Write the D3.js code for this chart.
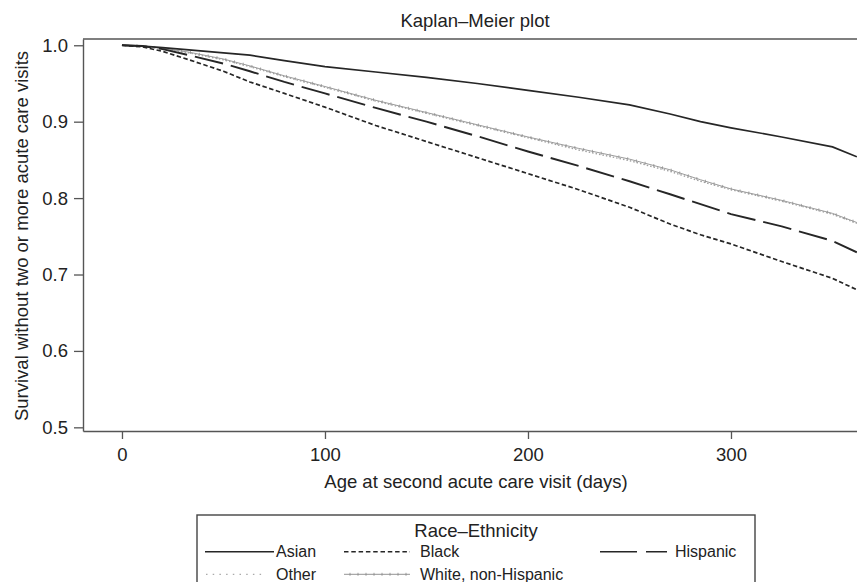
<!DOCTYPE html>
<html>
<head>
<meta charset="utf-8">
<script src="https://cdn.jsdelivr.net/npm/d3@7"></script>
<style>
  body { margin: 0; background: #fff; }
  svg { display: block; font-family: "Liberation Sans", Arial, Helvetica, sans-serif; }
</style>
</head>
<body>
<svg id="chart" width="857" height="582"></svg>
<script>
// Kaplan-Meier survival curves
var days = [0, 10, 20, 33, 50, 63, 80, 100, 125, 150, 175, 200, 225, 250, 270, 285, 300, 325, 350, 362];
var asian = [1.000, 0.999, 0.997, 0.994, 0.990, 0.987, 0.980, 0.972, 0.965, 0.958, 0.950, 0.941, 0.932, 0.922, 0.910, 0.900, 0.892, 0.880, 0.867, 0.854];
var black = [1.000, 0.998, 0.992, 0.981, 0.966, 0.952, 0.937, 0.919, 0.895, 0.874, 0.853, 0.832, 0.811, 0.788, 0.766, 0.752, 0.740, 0.717, 0.695, 0.680];
var hispanic = [1.000, 0.999, 0.995, 0.987, 0.976, 0.966, 0.952, 0.937, 0.918, 0.900, 0.881, 0.861, 0.842, 0.822, 0.805, 0.792, 0.779, 0.763, 0.744, 0.729];
var other = [1.000, 0.999, 0.996, 0.990, 0.981, 0.972, 0.959, 0.945, 0.927, 0.911, 0.895, 0.879, 0.863, 0.849, 0.835, 0.822, 0.811, 0.796, 0.779, 0.767];
var white = [1.000, 0.999, 0.996, 0.991, 0.982, 0.973, 0.960, 0.946, 0.928, 0.912, 0.896, 0.880, 0.865, 0.851, 0.837, 0.824, 0.812, 0.797, 0.780, 0.768];

var xTicks = [0, 100, 200, 300];
var yTicks = [0.5, 0.6, 0.7, 0.8, 0.9, 1.0];
var groupNames = ["Asian", "Black", "Hispanic", "Other", "White, non-Hispanic"];

var svg = d3.select("#chart");
var plotLeft = 83, plotRight = 867, plotTop = 39, plotBottom = 431;

var x = d3.scaleLinear().domain([-19.2, 367]).range([plotLeft, plotRight]);
var y = d3.scaleLinear().domain([0.4952, 1.0082]).range([plotBottom, plotTop]);

var ink = "#262626";
var axisInk = "#555";

// title
svg.append("text")
    .attr("x", 475)
    .attr("y", 27)
    .attr("text-anchor", "middle")
    .style("font-size", "18.5px")
    .style("fill", "#222")
    .text("Kaplan\u2013Meier plot");

svg.append("defs").append("clipPath").attr("id", "plotclip")
    .append("rect").attr("x", plotLeft).attr("y", plotTop)
    .attr("width", plotRight - plotLeft).attr("height", plotBottom - plotTop);

// frame top line
svg.append("line")
    .attr("x1", plotLeft).attr("x2", plotRight + 10)
    .attr("y1", plotTop).attr("y2", plotTop)
    .style("stroke", axisInk).style("stroke-width", 1.4);

// axes
var xAxis = svg.append("g")
    .attr("transform", "translate(0," + plotBottom + ")")
    .call(d3.axisBottom(x).tickValues(xTicks).tickSize(8).tickSizeOuter(0).tickPadding(9));
var yAxis = svg.append("g")
    .attr("transform", "translate(" + plotLeft + ",0)")
    .call(d3.axisLeft(y).tickValues(yTicks).tickSize(9).tickSizeOuter(0).tickPadding(6).tickFormat(d3.format(".1f")));

[xAxis, yAxis].forEach(function (g) {
    g.select(".domain").style("stroke", axisInk).style("stroke-width", 1.4);
    g.selectAll(".tick line").style("stroke", axisInk).style("stroke-width", 1.3);
    g.selectAll(".tick text")
        .style("font-size", "18.5px")
        .style("fill", "#222")
        .style("font-family", "\"Liberation Sans\", Arial, sans-serif");
});

// axis titles
svg.append("text")
    .attr("x", 476)
    .attr("y", 488)
    .attr("text-anchor", "middle")
    .style("font-size", "18.5px")
    .style("fill", "#222")
    .text("Age at second acute care visit (days)");

svg.append("text")
    .attr("transform", "translate(28,236) rotate(-90)")
    .attr("text-anchor", "middle")
    .style("font-size", "18.5px")
    .style("fill", "#222")
    .text("Survival without two or more acute care visits");

// curves
var series = [
    { name: groupNames[4], values: white, stroke: "#909090", width: 0.9, dash: null, ticks: true },
    { name: groupNames[3], values: other, stroke: "#a0a0a0", width: 1.4, dash: "1.5,2", ticks: false },
    { name: groupNames[2], values: hispanic, stroke: ink, width: 1.9, dash: "29,8", ticks: false },
    { name: groupNames[1], values: black, stroke: ink, width: 1.7, dash: "4.5,2.5", ticks: false },
    { name: groupNames[0], values: asian, stroke: ink, width: 1.7, dash: null, ticks: false }
];

var line = d3.line()
    .x(function (d) { return x(d[0]); })
    .y(function (d) { return y(d[1]); });

var plot = svg.append("g").attr("clip-path", "url(#plotclip)");

series.forEach(function (s) {
    var pts = days.map(function (d, i) { return [d, s.values[i]]; });
    var p = plot.append("path")
        .datum(pts)
        .attr("d", line)
        .style("fill", "none")
        .style("stroke", s.stroke)
        .style("stroke-width", s.width)
        .style("stroke-dasharray", s.dash);
    if (s.ticks) {
        // little censoring marks along the curve
        var node = p.node();
        var len = node.getTotalLength();
        for (var l = 6; l < len; l += 9) {
            var pt = node.getPointAtLength(l);
            plot.append("line")
                .attr("x1", pt.x).attr("x2", pt.x)
                .attr("y1", pt.y - 1.5).attr("y2", pt.y + 1.5)
                .style("stroke", s.stroke)
                .style("stroke-width", 0.8);
        }
    }
});

// legend
var legend = svg.append("g");
legend.append("rect")
    .attr("x", 197).attr("y", 515)
    .attr("width", 558).attr("height", 100)
    .style("fill", "none")
    .style("stroke", "#444")
    .style("stroke-width", 1.4);

legend.append("text")
    .attr("x", 476).attr("y", 536.5)
    .attr("text-anchor", "middle")
    .style("font-size", "18.5px")
    .style("fill", "#222")
    .text("Race\u2013Ethnicity");

var legendItems = [
    { name: groupNames[0], x1: 205, x2: 274, tx: 276, row: 0, stroke: ink, width: 1.6, dash: null, ticks: false },
    { name: groupNames[1], x1: 344, x2: 410, tx: 420, row: 0, stroke: ink, width: 1.5, dash: "4.5,2.8", ticks: false },
    { name: groupNames[2], x1: 600, x2: 667, tx: 675, row: 0, stroke: ink, width: 1.6, dash: "37,9", ticks: false },
    { name: groupNames[3], x1: 206, x2: 266, tx: 276, row: 1, stroke: "#aaa", width: 1.3, dash: "1.5,5.2", ticks: false },
    { name: groupNames[4], x1: 344, x2: 410, tx: 420, row: 1, stroke: "#888", width: 0.9, dash: null, ticks: true }
];
var rowY = [551.7, 574.3];

legendItems.forEach(function (it) {
    var ly = rowY[it.row];
    legend.append("line")
        .attr("x1", it.x1).attr("x2", it.x2)
        .attr("y1", ly).attr("y2", ly)
        .style("stroke", it.stroke)
        .style("stroke-width", it.width)
        .style("stroke-dasharray", it.dash);
    if (it.ticks) {
        for (var tx = it.x1 + 6; tx < it.x2; tx += 8) {
            legend.append("line")
                .attr("x1", tx).attr("x2", tx)
                .attr("y1", ly - 1.5).attr("y2", ly + 1.5)
                .style("stroke", it.stroke)
                .style("stroke-width", 0.8);
        }
    }
    legend.append("text")
        .attr("x", it.tx).attr("y", ly + 5.7)
        .style("font-size", "16px")
        .style("fill", "#222")
        .text(it.name);
});
</script>
</body>
</html>
